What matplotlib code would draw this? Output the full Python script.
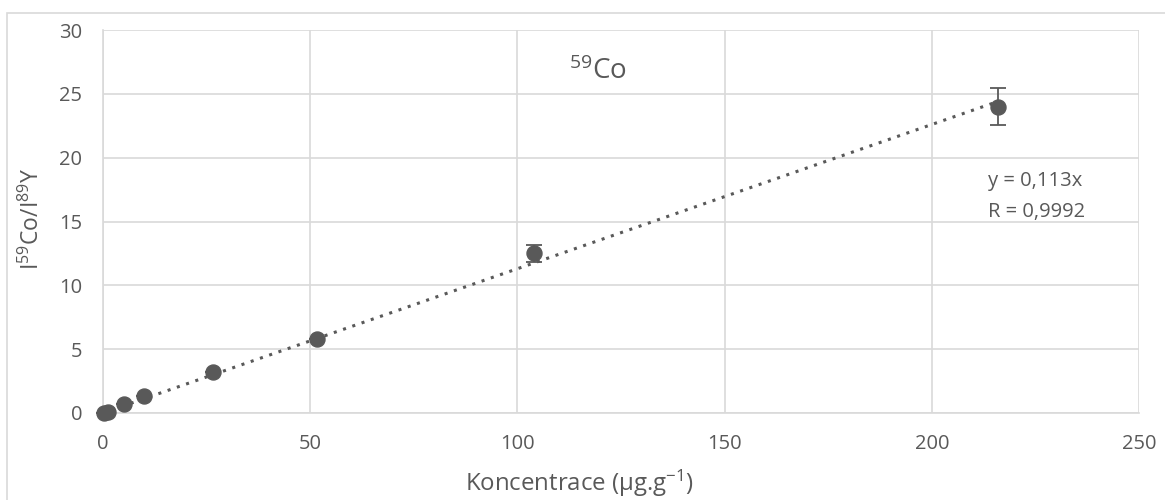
"""Calibration curve for 59Co (intensity ratio vs. concentration)."""

import matplotlib

matplotlib.use("Agg")
import matplotlib.pyplot as plt
import numpy as np
from matplotlib.patches import Rectangle

concentration = [0.3, 1.3, 5.1, 9.9, 26.5, 51.6, 104.1, 215.9]
ratio = [0.0, 0.1, 0.7, 1.33, 3.21, 5.77, 12.5, 24.0]
ratio_err = [0.0, 0.0, 0.0, 0.0, 0.0, 0.0, 0.65, 1.45]
slope = 0.113

x_ticks = [0, 50, 100, 150, 200, 250]
y_ticks = [0, 5, 10, 15, 20, 25, 30]

GREY = "#595959"
GRID = "#d9d9d9"

plt.rcParams["font.family"] = ["Open Sans", "DejaVu Sans"]
plt.rcParams["mathtext.fontset"] = "custom"
plt.rcParams["mathtext.rm"] = "Open Sans"
plt.rcParams["mathtext.default"] = "regular"


def main() -> None:
    fig = plt.figure(figsize=(11.65, 5.0), dpi=100)
    fig.patches.append(
        Rectangle((0.006, -0.02), 1.05, 0.994, transform=fig.transFigure,
                  fill=False, edgecolor=GRID, linewidth=1.2)
    )
    ax = fig.add_axes([0.0884, 0.174, 0.8893, 0.766])

    xs = np.array([0.0, max(concentration)])
    ax.plot(xs, slope * xs, linestyle=(0, (1, 2.2)), color=GREY, linewidth=2.2,
            zorder=2)
    ax.errorbar(concentration, ratio, yerr=ratio_err, fmt="o", color=GREY,
                markersize=10.8, ecolor=GREY, elinewidth=1.3, capsize=6,
                capthick=1.3, zorder=3, clip_on=False)

    ax.set_xlim(0, 250)
    ax.set_ylim(0, 30)
    ax.set_xticks(x_ticks)
    ax.set_yticks(y_ticks)
    ax.grid(True, color=GRID, linewidth=1.2)
    ax.set_axisbelow(True)
    for side in ["top", "right"]:
        ax.spines[side].set_visible(False)
    for side in ["left", "bottom"]:
        ax.spines[side].set_color(GRID)
        ax.spines[side].set_linewidth(1.2)
    ax.tick_params(length=0, labelsize=14.5, labelcolor=GREY)
    ax.tick_params(axis="x", pad=15)
    ax.tick_params(axis="y", pad=15)

    ax.set_xlabel(r"Koncentrace (µg.g$^{-1}$)", fontsize=17.3, color=GREY)
    ax.xaxis.label.set_va("center")
    ax.xaxis.set_label_coords(0.46, -0.183)
    ax.set_ylabel(r"I$^{59}$Co/I$^{89}$Y", fontsize=16.5, color=GREY)
    ax.yaxis.label.set_va("center")
    ax.yaxis.set_label_coords(-0.0685, 0.508)

    ax.text(119.5, 26.7, r"$^{59}$Co", fontsize=20, color=GREY, ha="center",
            va="center")
    ax.text(213.5, 18.17, "y = 0,113x", fontsize=14.5, color=GREY, ha="left",
            va="center")
    ax.text(213.5, 15.74, "R = 0,9992", fontsize=14.5, color=GREY, ha="left",
            va="center")

    fig.savefig("out.png", dpi=100)
    plt.close(fig)


if __name__ == "__main__":
    main()
